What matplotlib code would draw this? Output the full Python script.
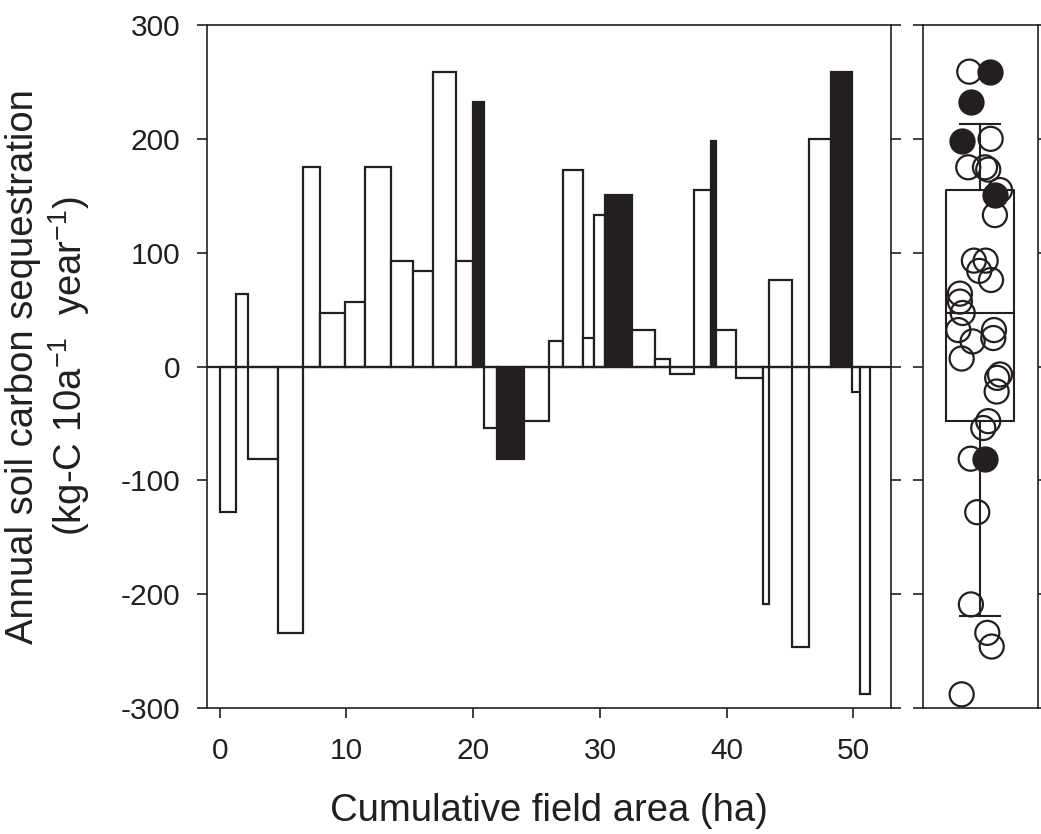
import numpy as np
import matplotlib
matplotlib.use("Agg")
import matplotlib.pyplot as plt

plt.rcParams['font.family'] = ['Liberation Sans', 'DejaVu Sans']
plt.rcParams['mathtext.fontset'] = 'custom'
plt.rcParams['mathtext.rm'] = 'Liberation Sans'
plt.rcParams['mathtext.it'] = 'Liberation Sans'
plt.rcParams['axes.unicode_minus'] = False

ink = '#231f20'

# field areas (ha), in the order they are stacked along the x axis
areas = [1.26, 0.95, 2.39, 1.94, 1.40, 1.97, 1.58, 2.04, 1.69, 1.60,
         1.81, 1.34, 0.92, 1.00, 2.10, 1.96, 1.16, 1.55, 0.87, 0.86,
         2.11, 1.87, 1.16, 1.92, 1.31, 0.42, 1.56, 2.13, 0.47, 1.79,
         1.40, 1.73, 1.66, 0.58, 0.79]
# annual soil carbon sequestration per field
seq = [-128, 64, -81, -234, 175, 47, 57, 175, 93, 84,
       259, 93, 232, -54, -81, -48, 22, 173, 25, 133,
       151, 32, 7, -7, 155, 198, 32, -10, -209, 76,
       -246, 200, 259, -22, -288]
# fields drawn in black
black = [0, 0, 0, 0, 0, 0, 0, 0, 0, 0,
         0, 0, 1, 0, 1, 0, 0, 0, 0, 0,
         1, 0, 0, 0, 0, 1, 0, 0, 0, 0,
         0, 0, 1, 0, 0]
# horizontal jitter of each field's point in the box panel
jitter = [-0.026, -0.176, -0.083, 0.061, -0.104, -0.152, -0.176, 0.041, -0.055, -0.009,
          -0.095, 0.047, -0.081, 0.026, 0.041, 0.069, -0.066, 0.069, 0.113, 0.127,
          0.127, -0.190, -0.161, 0.171, 0.171, -0.161, 0.119, 0.147, -0.081, 0.093,
          0.099, 0.090, 0.087, 0.142, -0.161]

xticks = [0, 10, 20, 30, 40, 50]
yticks = [-300, -200, -100, 0, 100, 200, 300]

areas = np.array(areas)
seq = np.array(seq)
black = np.array(black, dtype=bool)
lefts = np.concatenate([[0], np.cumsum(areas)[:-1]])

fig = plt.figure(figsize=(10.41, 8.34), dpi=100)
W, H = 1041, 834
ax = fig.add_axes([207 / W, 1 - 708 / H, 684.5 / W, 683 / H])
ax2 = fig.add_axes([922.5 / W, 1 - 708 / H, 115.5 / W, 683 / H])

colors = [ink if b else 'white' for b in black]
ax.bar(lefts, seq, width=areas, align='edge', color=colors,
       edgecolor=ink, linewidth=1.6, zorder=2)
ax.axhline(0, color=ink, lw=1.6, zorder=3)

ax.set_xlim(-1, 53)
ax.set_ylim(-300, 300)
ax.set_xticks(xticks)
ax.set_yticks(yticks)
ax.tick_params(axis='both', direction='out', length=7, width=1.2, color=ink,
               labelsize=21.5, labelcolor=ink)
ax.tick_params(axis='y', right=True, pad=12)
ax.tick_params(axis='x', pad=14)
for sp in ax.spines.values():
    sp.set_color(ink)
    sp.set_linewidth(1.2)

ax.set_ylabel("Annual soil carbon sequestration\n(kg-C 10a$^{-1}$  year$^{-1}$)",
              fontsize=27.5, color=ink, linespacing=1.15)
ax.yaxis.set_label_coords(-0.168, 0.5)
ax.set_xlabel("Cumulative field area (ha)", fontsize=27.5, color=ink)
ax.xaxis.set_label_coords(0.5, -0.124)

# box panel: SigmaPlot-style percentiles (10, 25, 50, 75, 90)
p10, p25, p50, p75, p90 = np.percentile(seq, [10, 25, 50, 75, 90], method='weibull')
stats = [dict(med=p50, q1=p25, q3=p75, whislo=p10, whishi=p90, fliers=[])]
lp = dict(color=ink, linewidth=1.5)
ax2.bxp(stats, positions=[0], widths=0.585, capwidths=0.35, showfliers=False,
        boxprops=lp, whiskerprops=lp, capprops=lp, medianprops=lp)

ax2.scatter(np.array(jitter)[~black], seq[~black], s=300, facecolors='none',
            edgecolors=ink, linewidths=1.6, zorder=4)
ax2.scatter(np.array(jitter)[black], seq[black], s=300, facecolors=ink,
            edgecolors=ink, linewidths=1.6, zorder=5)

ax2.set_xlim(-0.5, 0.5)
ax2.set_ylim(-300, 300)
ax2.set_yticks(yticks)
ax2.set_xticks([])
ax2.tick_params(axis='y', direction='out', length=7, width=1.2, color=ink,
                left=True, right=True, labelleft=False)
for sp in ax2.spines.values():
    sp.set_color(ink)
    sp.set_linewidth(1.2)

fig.savefig("out.png", dpi=100)
